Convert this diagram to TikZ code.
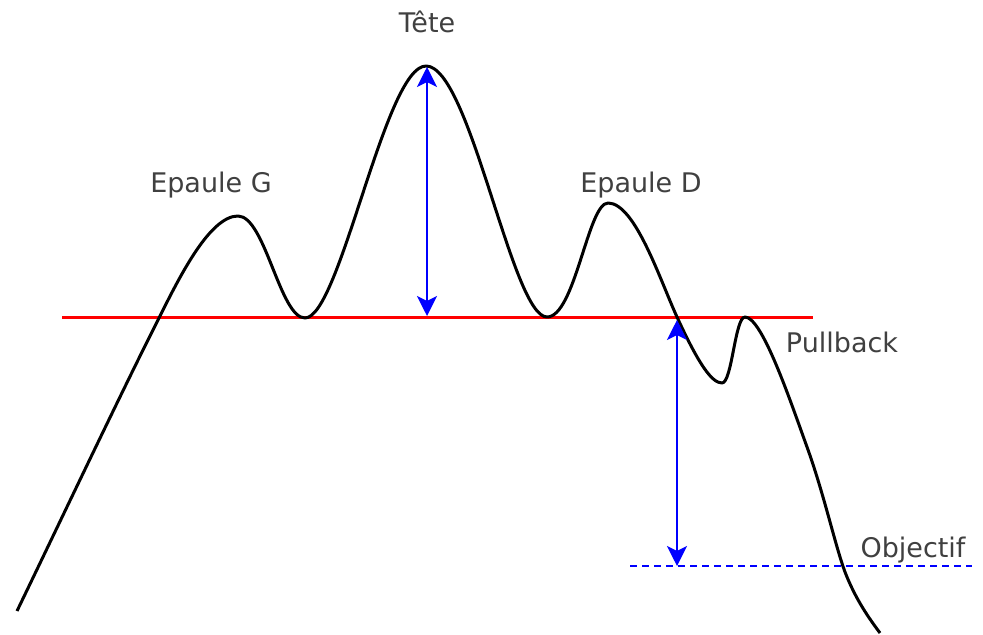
\documentclass[tikz,border=0pt]{standalone}
\usepackage{fontspec}
\setmainfont{DejaVu Sans}
\usetikzlibrary{arrows.meta, positioning}

\begin{document}
\begin{tikzpicture}[
        x=0.5pt, y=-0.5pt,
        lbl/.style={text=black!75, font=\fontsize{13.5}{16}\selectfont, inner sep=0pt, anchor=base},
        price/.style={draw, line width=1.5pt, line join=round},
        neck/.style={draw=red, line width=1.5pt},
        measure/.style={draw=blue, line width=1pt, arrows={Stealth[length=10pt,width=10pt,inset=2.5pt]-Stealth[length=10pt,width=10pt,inset=2.5pt]}},
        goal/.style={draw=blue, line width=0.8pt, dash pattern=on 3.5pt off 2.5pt}
    ]
        \useasboundingbox (0,0) rectangle (983,635);

        % Labels
        \node [lbl] (tete) at (427,33) {Tête};
        \node [lbl] (epg) at (211,193) {Epaule G};
        \node [lbl] (epd) at (641,193) {Epaule D};
        \node [lbl] (pull) at (842,353) {Pullback};
        \node [lbl] (obj) at (913,557) {Objectif};

        % Neckline and target
        \coordinate (neckL) at (62,318);
        \coordinate (neckR) at (813,318);
        \coordinate (goalL) at (630,566);
        \coordinate (goalR) at (972,566);
        \path [neck] (neckL) -- (neckR);
        \path [goal] (goalL) -- (goalR);

        % Price curve
        \path [price] (17,611)
            .. controls (60,522) and (120,395) .. (160,316)
            .. controls (180,276) and (210,216) .. (238,216)   % epaule G
            .. controls (265,216) and (280,318) .. (305,318)
            .. controls (340,318) and (385,66) .. (426,66)     % tete
            .. controls (470,66) and (512,317) .. (547,317)
            .. controls (575,317) and (588,203) .. (608,203)   % epaule D
            .. controls (635,203) and (660,280) .. (677,317)
            .. controls (699,365) and (712,383) .. (722,383)
            .. controls (732,383) and (735,317) .. (745,317)   % pullback
            .. controls (762,317) and (790,400) .. (807,447)
            .. controls (824,494) and (835,545) .. (845,572)
            .. controls (855,598) and (868,617) .. (880,633);

        % Measures
        \coordinate (headtop) at (427,67);
        \coordinate (headbase) at (427,316);
        \coordinate (brk) at (677,320);
        \coordinate (target) at (677,566);
        \path [measure] (headtop) -- (headbase);
        \path [measure] (brk) -- (target);
    \end{tikzpicture}
\end{document}
